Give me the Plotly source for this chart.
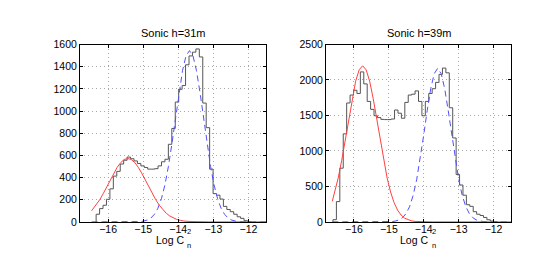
import plotly.graph_objects as go

# ---------------- data ----------------
# Left panel: Sonic h=31m  (histogram of Log Cn^2)
left_bin_start = -16.34
left_bin_width = 0.098
left_counts = [69, 120, 150, 204, 298, 413, 456, 522, 556, 585,
               570, 550, 527, 505, 491, 476, 476, 480, 505, 542,
               565, 700, 843, 1081, 1196, 1230, 1417, 1497, 1531, 1560,
               1488, 1072, 850, 476, 255, 241, 206, 140, 112, 92,
               69, 46, 32, 11, 3]

left_red_x = [-16.47, -16.34, -16.24, -16.14, -16.04, -15.94, -15.84, -15.74, -15.64, -15.54,
              -15.44, -15.34, -15.24, -15.14, -15.04, -14.94, -14.84, -14.74, -14.64, -14.54,
              -14.44, -14.34, -14.24, -14.14, -14.04, -13.94, -13.84, -13.64, -13.44, -13.14, -11.5]
left_red_y = [100, 150, 199, 254, 316, 378, 439, 493, 535, 563,
              572, 563, 535, 493, 439, 378, 316, 254, 199, 150,
              110, 77, 53, 35, 22, 14, 8, 3, 1, 0, 0]

left_blue_x = [-16.47, -15.2, -15.08, -14.98, -14.88, -14.78, -14.68, -14.58, -14.48, -14.38,
               -14.28, -14.18, -14.08, -13.98, -13.88, -13.78, -13.68, -13.58, -13.48, -13.38,
               -13.28, -13.18, -13.08, -12.98, -12.88, -12.78, -12.68, -12.58, -12.48, -12.38,
               -12.28, -12.08, -11.5]
left_blue_y = [0, 0, 3, 8, 17, 35, 68, 123, 209, 334,
               502, 707, 937, 1166, 1363, 1497, 1545, 1497, 1363, 1166,
               937, 707, 502, 334, 209, 123, 68, 35, 17, 8,
               3, 0, 0]

# Right panel: Sonic h=39m
right_bin_start = -16.6
right_bin_width = 0.098
right_counts = [31, 286, 757, 1241, 1676, 1788, 1855, 1810, 2114, 1945,
                1698, 1586, 1496, 1470, 1445, 1442, 1442, 1450, 1577, 1532,
                1461, 1684, 1788, 1800, 1846, 1698, 1496, 1698, 1810, 1877,
                1966, 2079, 2168, 2101, 1609, 1183, 668, 520, 376, 242,
                219, 144, 108, 90, 63, 30, 12, 4]

right_red_x = [-16.62, -16.55, -16.45, -16.35, -16.25, -16.15, -16.05, -15.95, -15.85, -15.75,
               -15.65, -15.55, -15.45, -15.35, -15.25, -15.15, -15.05, -14.95, -14.85, -14.75,
               -14.65, -14.55, -14.45, -14.35, -14.25, -14.05, -13.75, -11.5]
right_red_y = [290, 421, 621, 868, 1153, 1455, 1744, 1984, 2144, 2200,
               2144, 1984, 1744, 1455, 1153, 868, 621, 421, 272, 166,
               97, 53, 28, 14, 7, 1, 0, 0]

right_blue_x = [-16.62, -15.0, -14.9, -14.8, -14.7, -14.6, -14.5, -14.4, -14.3, -14.2,
                -14.1, -14.0, -13.9, -13.8, -13.7, -13.6, -13.5, -13.4, -13.3, -13.2,
                -13.1, -13.0, -12.9, -12.8, -12.7, -12.6, -12.5, -12.4, -12.3, -12.1,
                -11.9, -11.5]
right_blue_y = [0, 0, 5, 13, 29, 62, 122, 222, 379, 602,
                890, 1226, 1572, 1878, 2089, 2165, 2089, 1878, 1572, 1226,
                890, 602, 379, 222, 122, 62, 29, 13, 5, 1,
                0, 0]

titles = ["Sonic h=31m", "Sonic h=39m"]
x_ticks = [-16, -15, -14, -13, -12]
left_y_ticks = [0, 200, 400, 600, 800, 1000, 1200, 1400, 1600]
right_y_ticks = [0, 500, 1000, 1500, 2000, 2500]
x_range = [-16.8, -11.5]

# ---------------- helpers ----------------
def stairs(start, width, counts):
    edges = [start + i * width for i in range(len(counts) + 1)]
    xs = [edges[0]] + edges
    ys = [0] + list(counts) + [0]
    return xs, ys

W, H = 556, 259
FONT = "Liberation Sans, Arial, Helvetica, sans-serif"
HIST_C = "#555555"
RED_C = "#ff4040"
BLUE_C = "#5050ff"

fig = go.Figure()

for (start, width, counts, rx, ry, bx, by, xa, ya) in [
    (left_bin_start, left_bin_width, left_counts, left_red_x, left_red_y, left_blue_x, left_blue_y, "x", "y"),
    (right_bin_start, right_bin_width, right_counts, right_red_x, right_red_y, right_blue_x, right_blue_y, "x2", "y2"),
]:
    hx, hy = stairs(start, width, counts)
    fig.add_trace(go.Scatter(x=hx, y=hy, mode="lines", line=dict(color=HIST_C, width=1, shape="hv"),
                             xaxis=xa, yaxis=ya, showlegend=False, hoverinfo="skip"))
    fig.add_trace(go.Scatter(x=bx, y=by, mode="lines", line=dict(color=BLUE_C, width=1, dash="6px,4px"),
                             xaxis=xa, yaxis=ya, showlegend=False, hoverinfo="skip"))
    fig.add_trace(go.Scatter(x=rx, y=ry, mode="lines", line=dict(color=RED_C, width=1),
                             xaxis=xa, yaxis=ya, showlegend=False, hoverinfo="skip"))

def px_x(p):
    return p / W

def px_y(p):
    return 1 - p / H

ydom = [px_y(218), px_y(32)]
axis_common = dict(
    showline=True, linecolor="black", linewidth=1, mirror="ticks",
    ticks="inside", ticklen=3, tickcolor="black", tickwidth=1,
    showgrid=True, gridcolor="#a8a8a8", griddash="1px,3px", gridwidth=1,
    zeroline=False, tickfont=dict(family=FONT, size=10.5, color="black"),
)
xaxis_extra = dict(ticklabelstandoff=-2)

fig.update_layout(
    width=W, height=H,
    margin=dict(l=0, r=0, t=0, b=0),
    paper_bgcolor="white", plot_bgcolor="white",
    xaxis=dict(domain=[px_x(72), px_x(258)], range=x_range, tickvals=x_ticks, anchor="y", **axis_common, **xaxis_extra),
    yaxis=dict(domain=ydom, range=[0, 1600], tickvals=left_y_ticks, anchor="x", **axis_common),
    xaxis2=dict(domain=[px_x(318), px_x(503)], range=x_range, tickvals=x_ticks, anchor="y2", **axis_common, **xaxis_extra),
    yaxis2=dict(domain=ydom, range=[0, 2500], tickvals=right_y_ticks, anchor="x2", **axis_common),
)

annots = []
for title, cx in zip(titles, [165, 411]):
    annots.append(dict(text=title, x=px_x(cx), y=px_y(20), xref="paper", yref="paper",
                       xanchor="center", yanchor="middle", showarrow=False, borderpad=0,
                       font=dict(family=FONT, size=11, color="black")))
for right_edge in [176.5, 421]:
    annots.append(dict(text="Log C", x=px_x(right_edge), y=px_y(237.5), xref="paper", yref="paper",
                       xanchor="right", yanchor="middle", showarrow=False, borderpad=0,
                       font=dict(family=FONT, size=10.5, color="black")))
    annots.append(dict(text="2", x=px_x(right_edge + 1.5), y=px_y(228), xref="paper", yref="paper",
                       xanchor="left", yanchor="middle", showarrow=False, borderpad=0,
                       font=dict(family=FONT, size=7.5, color="black")))
    annots.append(dict(text="n", x=px_x(right_edge + 1.5), y=px_y(243), xref="paper", yref="paper",
                       xanchor="left", yanchor="middle", showarrow=False, borderpad=0,
                       font=dict(family=FONT, size=7.5, color="black")))
fig.update_layout(annotations=annots)

fig.write_html("out.html")
